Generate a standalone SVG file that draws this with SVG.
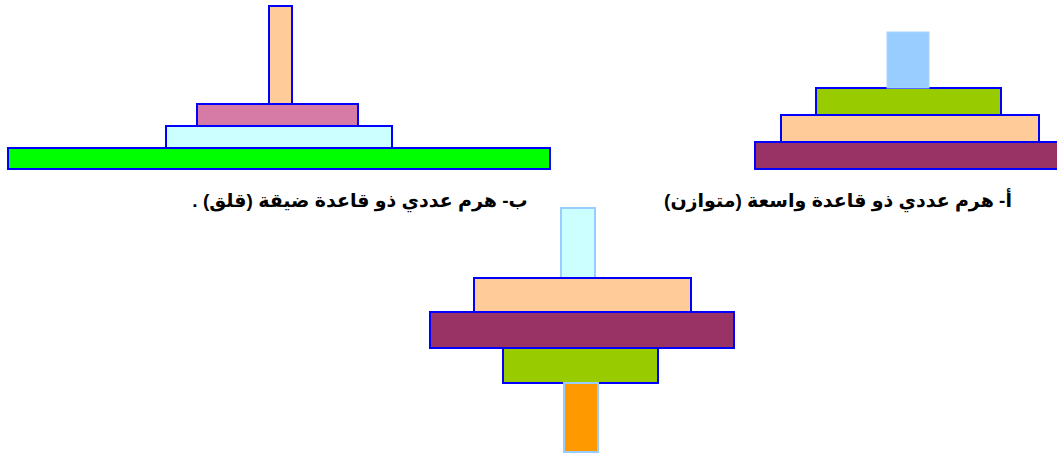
<svg xmlns="http://www.w3.org/2000/svg" width="1057" height="454" viewBox="0 0 1057 454">
<style>
.b{stroke:#0000FF;stroke-width:2}
.l{stroke:#99CCFF;stroke-width:2}
.t{font-family:"Liberation Sans","DejaVu Sans",sans-serif;font-weight:bold;font-size:19px;fill:#000}
</style>
<rect width="1057" height="454" fill="#fff"/>
<g id="pyramid-b">
<rect class="b" x="8" y="148" width="542" height="21" fill="#00FF00"/>
<rect class="b" x="166" y="126" width="226" height="22" fill="#CCFFFF"/>
<rect class="b" x="197" y="104" width="161" height="22" fill="#D67BA6"/>
<rect class="b" x="269" y="6" width="23" height="98" fill="#FFCC99"/>
</g>
<g id="pyramid-a">
<rect class="b" x="755" y="142" width="304" height="27" fill="#993366"/>
<rect class="b" x="781" y="115" width="258" height="27" fill="#FFCC99"/>
<rect class="b" x="816" y="88" width="185" height="27" fill="#99CC00"/>
<rect x="887" y="32" width="42" height="56" fill="#99CCFF" stroke="#A8D4FF" stroke-width="1"/>
</g>
<g id="pyramid-c">
<rect class="l" x="561" y="208" width="34" height="70" fill="#CCFFFF"/>
<rect class="b" x="474" y="278" width="217" height="34" fill="#FFCC99"/>
<rect class="b" x="430" y="312" width="304" height="36" fill="#993366"/>
<rect class="b" x="503" y="348" width="155" height="35" fill="#99CC00"/>
<rect class="l" x="564" y="383" width="34" height="69" fill="#FF9900"/>
</g>
<g id="labels">
<text class="t" x="838" y="207" text-anchor="middle" direction="rtl">أ- هرم عددي ذو قاعدة واسعة (متوازن)</text>
<text class="t" x="360" y="207" text-anchor="middle" direction="rtl">ب- هرم عددي ذو قاعدة ضيقة (قلق) .</text>
</g>
</svg>
